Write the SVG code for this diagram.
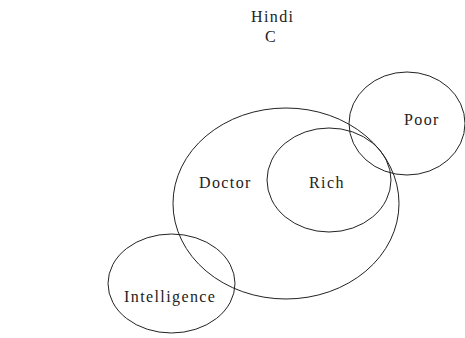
<svg xmlns="http://www.w3.org/2000/svg" width="465" height="338" viewBox="0 0 465 338">
<style>
.set{fill:none;stroke:#222;stroke-width:1}
.lbl{font-family:'Liberation Serif','Times New Roman',serif;font-size:16px;letter-spacing:1.4px;fill:#222}
</style>
<rect width="465" height="338" fill="#fff"/>
<g id="title">
<text class="lbl" x="251" y="22">Hindi</text>
<text class="lbl" x="265" y="42">C</text>
</g>
<g id="doctor">
<ellipse class="set" cx="286" cy="203.5" rx="113" ry="95.5"/>
<text class="lbl" x="199" y="188">Doctor</text>
</g>
<g id="rich">
<ellipse class="set" cx="329" cy="180" rx="62" ry="52"/>
<text class="lbl" x="309" y="188">Rich</text>
</g>
<g id="poor">
<ellipse class="set" cx="407" cy="123.5" rx="58" ry="51.5"/>
<text class="lbl" x="404" y="125">Poor</text>
</g>
<g id="intelligence">
<ellipse class="set" cx="171.5" cy="283.5" rx="63.5" ry="49.5"/>
<text class="lbl" x="124" y="302">Intelligence</text>
</g>
<g id="connectors"></g>
</svg>
